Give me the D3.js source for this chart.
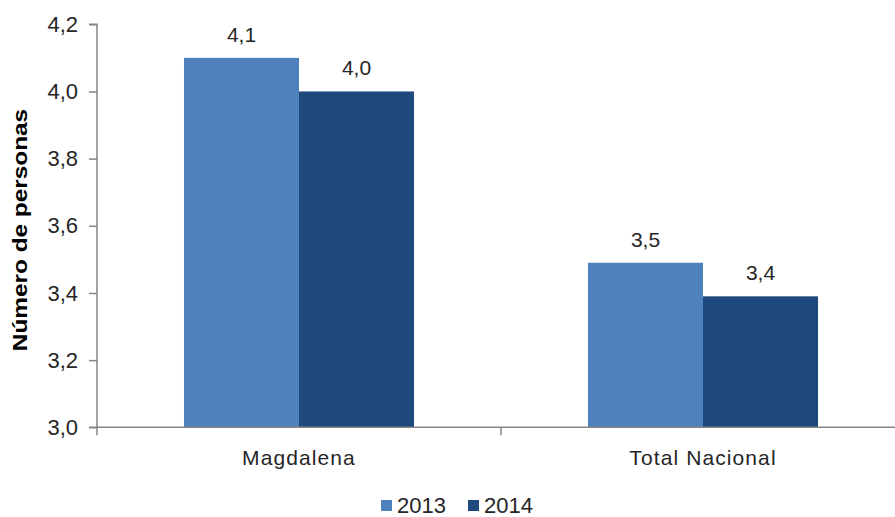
<!DOCTYPE html>
<html>
<head>
<meta charset="utf-8">
<script src="https://cdn.jsdelivr.net/npm/d3@7/dist/d3.min.js"></script>
<style>
  html, body { margin: 0; padding: 0; background: #fff; }
  svg { display: block; font-family: "Liberation Sans", Arial, sans-serif; }
</style>
</head>
<body>
<svg id="chart" width="895" height="517"></svg>
<script>
const categories = ["Magdalena", "Total Nacional"];
const series = ["2013", "2014"];
const values2013 = [4.10, 3.49];
const values2014 = [4.00, 3.39];
const valueLabels2013 = ["4,1", "3,5"];
const valueLabels2014 = ["4,0", "3,4"];
const yTicks = [3.0, 3.2, 3.4, 3.6, 3.8, 4.0, 4.2];
const colors = ["#4F81BD", "#1F497D"];

(function () {
const svg = d3.select("#chart");
const pLeft = 97, pRight = 905, pTop = 24.3, pBottom = 427.3;
const axisColor = "#868686";
const textColor = "#262626";

const y = d3.scaleLinear().domain([3.0, 4.2]).range([pBottom, pTop]);
const x0 = d3.scaleBand().domain(categories).range([pLeft, pRight]);
const bw = x0.bandwidth();
const x1 = d3.scaleBand().domain(series).range([bw * 0.2153, bw * 0.7847]);

const data = categories.map((c, i) => ({
  cat: c,
  vals: [
    { s: series[0], v: values2013[i], lab: valueLabels2013[i] },
    { s: series[1], v: values2014[i], lab: valueLabels2014[i] }
  ]
}));

// bars
const g = svg.append("g");
const groups = g.selectAll("g.cat").data(data).enter().append("g")
  .attr("transform", d => `translate(${x0(d.cat)},0)`);
groups.selectAll("rect").data(d => d.vals).enter().append("rect")
  .attr("x", d => x1(d.s))
  .attr("width", x1.bandwidth())
  .attr("y", d => y(d.v))
  .attr("height", d => y(3.0) - y(d.v))
  .attr("fill", (d, i) => colors[i]);
groups.selectAll("text").data(d => d.vals).enter().append("text")
  .attr("x", d => x1(d.s) + x1.bandwidth() / 2)
  .attr("y", d => y(d.v) - 16)
  .attr("text-anchor", "middle")
  .attr("font-size", 21)
  .attr("fill", textColor)
  .text(d => d.lab);

// y axis
const yAxis = d3.axisLeft(y).tickValues(yTicks).tickSize(8).tickPadding(11)
  .tickFormat(d => d3.format(".1f")(d).replace(".", ","));
const ya = svg.append("g").attr("transform", `translate(${pLeft},0)`).call(yAxis);
ya.select(".domain").attr("stroke", axisColor).attr("stroke-width", 1.5).attr("d", `M-8,${pTop}H0V${pBottom}`);
ya.selectAll(".tick line").attr("stroke", axisColor).attr("stroke-width", 1.5);
ya.selectAll(".tick text").attr("font-size", 22).attr("fill", textColor)
  .attr("font-family", "Liberation Sans, Arial, sans-serif");

// x axis
const xa = svg.append("g").attr("transform", `translate(0,${pBottom})`);
xa.append("line").attr("x1", pLeft - 8).attr("x2", 895).attr("y1", 0).attr("y2", 0)
  .attr("stroke", axisColor).attr("stroke-width", 1.5);
const boundaries = categories.map(c => x0(c)).concat([pRight]);
xa.selectAll("line.tk").data(boundaries).enter().append("line")
  .attr("x1", d => d).attr("x2", d => d).attr("y1", 0).attr("y2", 8)
  .attr("stroke", axisColor).attr("stroke-width", 1.5);
xa.selectAll("text").data(categories).enter().append("text")
  .attr("x", d => x0(d) + bw / 2)
  .attr("y", 38)
  .attr("text-anchor", "middle")
  .attr("font-size", 21)
  .attr("letter-spacing", 1.1)
  .attr("fill", textColor)
  .text(d => d);

// y title
svg.append("text")
  .attr("transform", `translate(27,230) rotate(-90) scale(1.25,1)`)
  .attr("text-anchor", "middle")
  .attr("font-size", 19.5)
  .attr("font-weight", "bold")
  .attr("fill", "#000")
  .text("Número de personas");

// legend
const legendX = [381, 468];
const lg = svg.append("g");
series.forEach((s, i) => {
  lg.append("rect").attr("x", legendX[i]).attr("y", 500).attr("width", 11).attr("height", 11)
    .attr("fill", colors[i]);
  lg.append("text").attr("x", legendX[i] + 16).attr("y", 513)
    .attr("font-size", 22).attr("fill", textColor).text(s);
});
})();
</script>
</body>
</html>
